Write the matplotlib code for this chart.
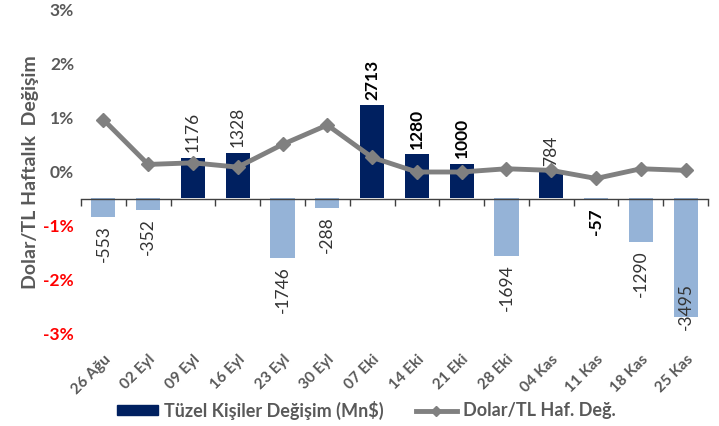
import matplotlib
matplotlib.use("Agg")
import matplotlib.pyplot as plt
from matplotlib.patches import Patch
from matplotlib.lines import Line2D

plt.rcParams['font.family'] = ['Lato', 'DejaVu Sans']

categories = ["26 Ağu", "02 Eyl", "09 Eyl", "16 Eyl", "23 Eyl", "30 Eyl", "07 Eki",
              "14 Eki", "21 Eki", "28 Eki", "04 Kas", "11 Kas", "18 Kas", "25 Kas"]
tuzel = [-553, -352, 1176, 1328, -1746, -288, 2713, 1280, 1000, -1694, 784, -57, -1290, -3495]
dolar_tl = [0.97, 0.14, 0.17, 0.09, 0.51, 0.87, 0.27, 0.0, 0.0, 0.06, 0.03, -0.12, 0.06, 0.03]
bold_labels = [2713, 1280, 1000, -57]

NAVY = "#002060"
LIGHT = "#95B3D7"
GRAY = "#808080"
TXT = "#595959"

fig = plt.figure(figsize=(7.19, 4.26), dpi=100)
ax = fig.add_axes([81/719, 1-334/426, 627/719, 324/426])
ax2 = ax.twinx()
ax.set_zorder(ax2.get_zorder() + 1)
ax.patch.set_visible(False)

x = list(range(len(categories)))
colors = [NAVY if v >= 0 else LIGHT for v in tuzel]
ax2.bar(x, tuzel, width=0.54, color=colors)
ax2.set_ylim(-3980, 5500)
ax2.set_yticks([])
for s in ax2.spines.values():
    s.set_visible(False)

ylo = ax2.get_ylim()[0]
LFS = 12.5
for xi, v in zip(x, tuzel):
    isb = v in bold_labels
    col = "#000000" if isb else "#333333"
    fw = "bold" if isb else "normal"
    if v >= 0:
        ax2.annotate(str(v), (xi, v), xytext=(0, 4), textcoords="offset points",
                     rotation=90, ha="center", va="bottom", fontsize=LFS,
                     color=col, fontweight=fw)
    else:
        if v < -3000:
            ax2.annotate(str(v), (xi, ylo), xytext=(0, 3), textcoords="offset points",
                         rotation=90, ha="center", va="bottom", fontsize=LFS,
                         color=col, fontweight=fw)
        else:
            ax2.annotate(str(v), (xi, v), xytext=(0, -6), textcoords="offset points",
                         rotation=90, ha="center", va="top", fontsize=LFS,
                         color=col, fontweight=fw)

ax.plot(x, dolar_tl, color=GRAY, lw=3.5, marker="D", markersize=7,
        markerfacecolor=GRAY, markeredgecolor=GRAY, zorder=5)
ax.set_xlim(-0.5, len(categories) - 0.5)
ax.set_ylim(-3, 3)
ax.set_yticks([-3, -2, -1, 0, 1, 2, 3])
ax.set_yticklabels(["-3%", "-2%", "-1%", "0%", "1%", "2%", "3%"])
for lab, val in zip(ax.get_yticklabels(), [-3, -2, -1, 0, 1, 2, 3]):
    lab.set_color("#FF0000" if val < 0 else TXT)
    lab.set_fontweight("bold")
    lab.set_fontsize(12.5)
ax.tick_params(axis="y", length=0, pad=5)

for side in ["left", "right", "bottom"]:
    ax.spines[side].set_visible(False)
ax.spines["top"].set_position(("data", -0.5))
ax.spines["top"].set_color("#404040")
ax.spines["top"].set_linewidth(1.0)

ax.set_xticks(x)
ax.set_xticklabels(categories, rotation=45, ha="right", rotation_mode="anchor",
                   fontsize=11, fontweight="bold", color=TXT)
ax.set_xticks([i - 0.5 for i in range(len(categories) + 1)], minor=True)
ax.tick_params(axis="x", which="major", length=0, pad=13, bottom=True, top=False,
               labelbottom=True, labeltop=False)
ax.tick_params(axis="x", which="minor", top=True, bottom=False, direction="in",
               length=5, width=1, color="#404040")

ax.set_ylabel("Dolar/TL Haftalık  Değişim", fontsize=14, fontweight="bold",
              color=TXT, labelpad=3)

handles = [Patch(facecolor=NAVY, edgecolor=NAVY),
           Line2D([0], [0], color=GRAY, lw=3.5, marker="D", markersize=5)]
fig.legend(handles, ["Tüzel Kişiler Değişim (Mn$)", "Dolar/TL Haf. Değ."],
           loc="center", bbox_to_anchor=(366/719, 1-410/426), ncol=2, frameon=False,
           prop={"weight": "bold", "size": 13}, labelcolor=TXT,
           handlelength=2.3, handleheight=0.5, columnspacing=1.8, handletextpad=0.3)

fig.savefig("out.png", dpi=100)
